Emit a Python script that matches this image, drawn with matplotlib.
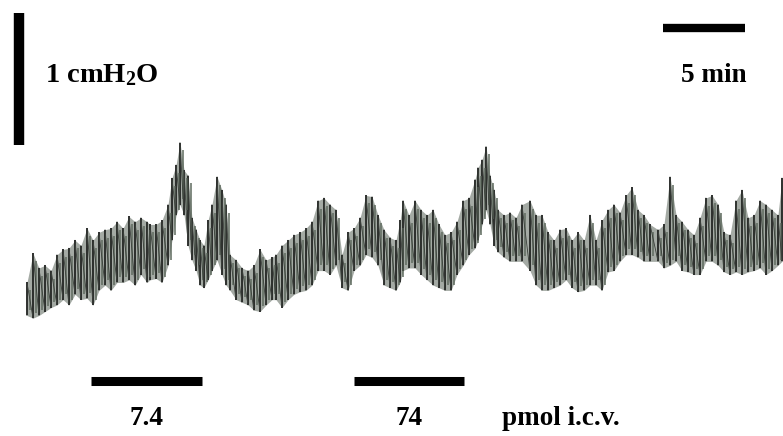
import numpy as np
import matplotlib
matplotlib.use("Agg")
import matplotlib.pyplot as plt

plt.rcParams['font.family'] = ['Liberation Serif', 'DejaVu Serif']
plt.rcParams['mathtext.fontset'] = 'custom'
plt.rcParams['mathtext.rm'] = 'Liberation Serif:bold'
plt.rcParams['mathtext.it'] = 'Liberation Serif:bold'
plt.rcParams['mathtext.bf'] = 'Liberation Serif:bold'

# ---- data (time in min, pressure in cmH2O, arbitrary baseline) ----
time_min = [0.12, 0.49, 0.85, 1.22, 1.59, 1.95, 2.32, 2.68, 3.05, 3.41, 3.78, 4.15, 4.51, 4.88, 5.24, 5.61, 5.98, 6.34, 6.71, 7.07, 7.44,
            7.62, 7.99, 8.35, 8.72, 8.96, 9.21, 9.45, 9.70, 9.94, 10.18, 10.43, 10.67, 10.91, 11.16, 11.40, 11.71, 12.01, 12.26, 12.50, 12.87, 13.23, 13.60, 13.96, 14.33, 14.70, 15.06,
            15.30, 15.67, 16.04, 16.40, 16.77, 17.13, 17.50, 17.87, 18.23, 18.60, 18.96, 19.33, 19.70, 20.06, 20.43, 20.79, 21.16, 21.52, 21.89, 22.26, 22.62, 22.87,
            23.05, 23.41, 23.78, 24.15, 24.51, 24.88, 25.24, 25.61, 25.98, 26.34, 26.71, 27.07, 27.44, 27.62, 27.87, 28.11, 28.35, 28.60, 28.84, 29.21, 29.57, 29.94, 30.30,
            30.79, 31.16, 31.52, 31.89, 32.26, 32.62, 32.99, 33.35, 33.72, 34.09, 34.45, 34.82, 35.18, 35.55, 35.91, 36.28, 36.65, 37.01, 37.38, 37.74, 38.11,
            38.60, 38.96, 39.33, 39.70, 40.06, 40.43, 40.79, 41.16, 41.52, 41.89, 42.26, 42.62, 42.99, 43.35, 43.72, 44.09, 44.45, 44.82, 45.18, 45.55, 45.91, 46.16]

pressure_top = [0.36, 0.58, 0.47, 0.49, 0.45, 0.57, 0.61, 0.62, 0.68, 0.64, 0.77, 0.68, 0.74, 0.76, 0.77, 0.82, 0.77, 0.86, 0.82, 0.85, 0.82,
                0.80, 0.80, 0.83, 0.95, 1.15, 1.25, 1.42, 1.21, 1.17, 0.85, 0.76, 0.68, 0.64, 0.83, 0.95, 1.16, 1.06, 0.95, 0.57, 0.53, 0.47, 0.45, 0.49, 0.61, 0.53, 0.55,
                0.57, 0.64, 0.68, 0.72, 0.74, 0.77, 0.82, 0.98, 1.00, 0.95, 0.91, 0.57, 0.74, 0.77, 0.85, 1.02, 1.01, 0.87, 0.76, 0.70, 0.68, 0.83,
                0.98, 0.87, 0.98, 0.91, 0.87, 0.91, 0.80, 0.72, 0.74, 0.82, 0.98, 1.00, 1.14, 1.23, 1.29, 1.39, 1.17, 1.06, 0.91, 0.87, 0.89, 0.85, 0.95,
                0.98, 0.87, 0.87, 0.74, 0.68, 0.76, 0.77, 0.68, 0.74, 0.68, 0.87, 0.68, 0.83, 0.91, 0.95, 0.89, 1.02, 1.08, 0.91, 0.87, 0.80,
                0.76, 0.80, 1.16, 0.87, 0.82, 0.76, 0.72, 0.85, 1.00, 1.02, 0.95, 0.74, 0.72, 0.98, 1.06, 0.85, 0.87, 0.98, 0.95, 0.91, 0.87, 1.15]

pressure_bottom = [0.11, 0.09, 0.11, 0.14, 0.17, 0.19, 0.23, 0.19, 0.27, 0.23, 0.24, 0.19, 0.30, 0.34, 0.30, 0.36, 0.36, 0.38, 0.34, 0.42, 0.36,
                   0.38, 0.39, 0.36, 0.49, 0.68, 0.87, 0.95, 0.87, 0.64, 0.53, 0.45, 0.34, 0.32, 0.38, 0.45, 0.53, 0.42, 0.34, 0.30, 0.23, 0.21, 0.19, 0.15, 0.14, 0.19, 0.23,
                   0.23, 0.17, 0.23, 0.27, 0.29, 0.30, 0.34, 0.45, 0.45, 0.42, 0.49, 0.32, 0.30, 0.45, 0.49, 0.57, 0.55, 0.49, 0.34, 0.32, 0.30, 0.36,
                   0.45, 0.47, 0.47, 0.42, 0.38, 0.34, 0.32, 0.30, 0.30, 0.42, 0.49, 0.57, 0.62, 0.68, 0.80, 0.91, 0.80, 0.64, 0.59, 0.55, 0.52, 0.52, 0.52,
                   0.45, 0.34, 0.30, 0.30, 0.32, 0.34, 0.38, 0.32, 0.29, 0.30, 0.34, 0.34, 0.30, 0.44, 0.45, 0.52, 0.57, 0.57, 0.55, 0.52, 0.52,
                   0.52, 0.47, 0.49, 0.52, 0.45, 0.44, 0.42, 0.42, 0.52, 0.52, 0.49, 0.44, 0.42, 0.44, 0.42, 0.44, 0.45, 0.47, 0.42, 0.45, 0.49, 0.52]

# scale bars and injections
pressure_scale = 1.0          # cmH2O
time_scale = 5.0              # min
dose_labels = ["7.4", "74"]
dose_start_min = [4.02, 20.06]
dose_end_min = [10.79, 26.77]
dose_unit = "pmol i.c.v."

# ---- figure ----
fig = plt.figure(figsize=(7.83, 4.36), dpi=100)
ax = fig.add_axes([0, 0, 1, 1])
ax.set_xlim(-1.524, 46.22)
ax.set_ylim(-0.803, 2.5)
ax.axis('off')

t = np.array(time_min)
top = np.array(pressure_top)
bot = np.array(pressure_bottom)

# grey body of the trace
ax.fill_between(t, bot, top, color='#a4aaa4', lw=0)
# vertical excursions
ax.vlines(t, bot, top, color='#1a1a1a', lw=1.3)
ax.vlines(t + 0.18, bot + 0.04, top - 0.06, color='#5f6b5f', lw=1.1)
# thin connecting line
zx = np.repeat(t, 2)
zy = np.empty(2 * len(t))
zy[0::2] = bot
zy[1::2] = top
ax.plot(zx, zy, color='#3a3f3a', lw=0.6)

FS = 19.5
# vertical pressure scale bar
ax.plot([-0.37, -0.37], [1.40, 1.40 + pressure_scale], color='black', lw=7.5, solid_capstyle='butt')
ax.text(1.22, 1.93, r'1 cmH$_{2}$O', fontsize=FS + 1, fontweight='bold', ha='left', va='center')

# horizontal time scale bar
ax.plot([38.9, 38.9 + time_scale], [2.29, 2.29], color='black', lw=6, solid_capstyle='butt')
ax.text(42.0, 1.93, '5 min', fontsize=FS, fontweight='bold', ha='center', va='center')

# injection bars
for lab, s, e in zip(dose_labels, dose_start_min, dose_end_min):
    ax.plot([s, e], [-0.386, -0.386], color='black', lw=6.5, solid_capstyle='butt')
    ax.text((s + e) / 2, -0.67, lab, fontsize=FS, fontweight='bold', ha='center', va='center')
ax.text(29.09, -0.67, dose_unit, fontsize=FS, fontweight='bold', ha='left', va='center')

fig.savefig('out.png', dpi=100)
